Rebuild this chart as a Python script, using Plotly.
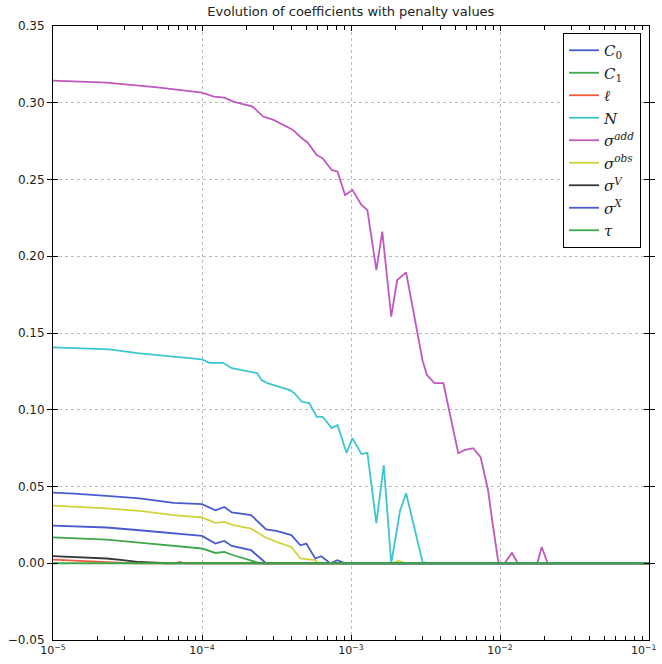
import numpy as np
import plotly.graph_objects as go

# ---- data (x given as log10 of penalty) ----
c0_exp = [-5.0, -4.64, -4.42, -4.19, -4.0, -3.91, -3.85, -3.80, -3.67, -3.57, -1.0]
c0_val = [0.0245, 0.0233, 0.0215, 0.0194, 0.0178, 0.0128, 0.0145, 0.0113, 0.0085, 0.0, 0.0]

c1_exp = [-5.0, -4.64, -4.42, -4.19, -4.0, -3.91, -3.85, -3.79, -3.67, -3.61, -1.0]
c1_val = [0.0168, 0.0154, 0.0135, 0.0113, 0.0096, 0.0067, 0.0074, 0.0052, 0.002, 0.0, 0.0]

ell_exp = [-5.0, -4.75, -4.53, -4.48, -4.18, -4.15, -4.12, -1.0]
ell_val = [0.0024, 0.0015, 0.0003, 0.0, 0.0, 0.0008, 0.0, 0.0]

n_exp = [-5.0, -4.62, -4.42, -4.2, -4.0, -3.95, -3.86, -3.80, -3.68, -3.63, -3.60, -3.56,
         -3.48, -3.41, -3.38, -3.33, -3.28, -3.23, -3.19, -3.13, -3.09, -3.03, -2.99,
         -2.93, -2.89, -2.83, -2.78, -2.73, -2.67, -2.63, -2.52, -2.48, -1.0]
n_val = [0.1406, 0.1393, 0.1367, 0.1345, 0.1328, 0.1306, 0.1306, 0.1271, 0.1247, 0.1239, 0.1193, 0.1173,
         0.1149, 0.1128, 0.1108, 0.1052, 0.1043, 0.0954, 0.0954, 0.0880, 0.0900, 0.0719, 0.0815,
         0.0711, 0.0719, 0.0261, 0.0639, 0.0, 0.0346, 0.0456, 0.0008, 0.0, 0.0]

sadd_exp = [-5.0, -4.64, -4.30, -4.0, -3.92, -3.85, -3.79, -3.66, -3.59, -3.52, -3.43, -3.39,
            -3.33, -3.29, -3.23, -3.19, -3.13, -3.09, -3.04, -2.99, -2.93, -2.89, -2.83,
            -2.79, -2.73, -2.69, -2.63, -2.52, -2.49, -2.44, -2.38, -2.34, -2.28, -2.24,
            -2.18, -2.13, -2.08, -2.05, -2.01, -1.97, -1.92, -1.88, -1.75, -1.72, -1.68, -1.0]
sadd_val = [0.3144, 0.3131, 0.3100, 0.3066, 0.3040, 0.3033, 0.3007, 0.2975, 0.2910, 0.2888, 0.2844, 0.2823,
            0.2769, 0.2740, 0.2660, 0.2638, 0.2562, 0.2551, 0.2399, 0.2432, 0.2334, 0.2301, 0.1910,
            0.2160, 0.1606, 0.1845, 0.1895, 0.1323, 0.1226, 0.1173, 0.1173, 0.0997, 0.0717, 0.0737,
            0.0750, 0.0691, 0.0476, 0.0261, 0.0, 0.0, 0.0067, 0.0, 0.0, 0.0106, 0.0, 0.0]

sobs_exp = [-5.0, -4.64, -4.42, -4.19, -4.0, -3.91, -3.85, -3.79, -3.67, -3.58, -3.50, -3.40,
            -3.34, -3.24, -3.22, -2.73, -2.68, -2.63, -1.0]
sobs_val = [0.0375, 0.0357, 0.0341, 0.0313, 0.0298, 0.0263, 0.0269, 0.0248, 0.0226, 0.0171, 0.0139, 0.0106,
            0.0031, 0.002, 0.0, 0.0, 0.0015, 0.0, 0.0]

sv_exp = [-5.0, -4.86, -4.64, -4.53, -4.42, -4.24, -1.0]
sv_val = [0.0046, 0.0041, 0.0031, 0.002, 0.0008, 0.0, 0.0]

sx_exp = [-5.0, -4.86, -4.64, -4.42, -4.19, -4.0, -3.91, -3.85, -3.80, -3.67, -3.57, -3.50,
          -3.40, -3.34, -3.30, -3.24, -3.20, -3.14, -3.09, -3.04, -1.0]
sx_val = [0.0460, 0.0454, 0.0439, 0.0422, 0.0393, 0.0385, 0.0345, 0.0367, 0.0331, 0.0313, 0.0220, 0.0211,
          0.0183, 0.0117, 0.0128, 0.0031, 0.0046, 0.0, 0.002, 0.0, 0.0]

tau_exp = [-5.0, -1.0]
tau_val = [0.0, 0.0]

x_tick_vals = [1e-5, 1e-4, 1e-3, 1e-2, 1e-1]
x_tick_text = ["10<sup>−5</sup>", "10<sup>−4</sup>", "10<sup>−3</sup>", "10<sup>−2</sup>",
               "10<sup>−1</sup>\u00a0\u00a0\u00a0"]

labels = ["<i>C</i><sub>0</sub>", "<i>C</i><sub>1</sub>", "<i>ℓ</i>", "<i>N</i>",
          "<i>σ</i><sup><i>add</i></sup>", "<i>σ</i><sup><i>obs</i></sup>",
          "<i>σ</i><sup><i>V</i></sup>", "<i>σ</i><sup><i>X</i></sup>", "<i>τ</i>"]
colors = ["#4a5ad0", "#3ea84a", "#f05a3c", "#3cc6d2", "#c058c0", "#d2d23c", "#383838", "#4a5ad0", "#3ea84a"]
series = [(c0_exp, c0_val), (c1_exp, c1_val), (ell_exp, ell_val), (n_exp, n_val),
          (sadd_exp, sadd_val), (sobs_exp, sobs_val), (sv_exp, sv_val), (sx_exp, sx_val),
          (tau_exp, tau_val)]

# minor tick positions on the log axis (2..9 x each decade)
minor_ticks = [m * 10.0 ** d for d in range(-5, -1) for m in range(2, 10)]

fig = go.Figure()
for (ex, val), lab, col in zip(series, labels, colors):
    fig.add_trace(go.Scatter(x=10 ** np.array(ex), y=val, mode="lines", name=lab,
                             line=dict(color=col, width=1.8)))

axis_common = dict(showline=True, linecolor="black", linewidth=1, mirror="allticks",
                   ticks="inside", ticklen=5, tickcolor="black",
                   showgrid=True, gridcolor="#bcbcbc", griddash="dot", gridwidth=1,
                   zeroline=False, ticklabeloverflow="allow", automargin=False)

fig.update_xaxes(type="log", range=[-5, -1], tickmode="array", tickvals=x_tick_vals,
                 ticktext=x_tick_text,
                 tickfont=dict(family="DejaVu Sans", size=11, color="#222"), **axis_common)
fig.update_yaxes(range=[-0.05, 0.35], dtick=0.05, tickformat=".2f", ticklabelstandoff=5,
                 tickfont=dict(family="DejaVu Sans", size=12, color="#222"), **axis_common)

fig.update_layout(
    width=662, height=664,
    margin=dict(l=53, r=13, t=26, b=24),
    paper_bgcolor="white", plot_bgcolor="white",
    xaxis2=dict(type="log", range=[-5, -1], overlaying="x", side="bottom", anchor="y",
                tickmode="array", tickvals=minor_ticks, showticklabels=False,
                ticks="inside", ticklen=4, tickcolor="black", tickwidth=1, mirror="allticks",
                showline=True, linecolor="black", linewidth=1,
                showgrid=False, zeroline=False, automargin=False),
    title=dict(text="Evolution of coefficients with penalty values", x=0.53, xanchor="center",
               y=0.99, yanchor="top", font=dict(family="DejaVu Sans", size=13, color="#222")),
    legend=dict(x=0.9866, y=0.9886, xanchor="right", yanchor="top",
                bgcolor="white", bordercolor="black", borderwidth=1,
                font=dict(family="DejaVu Serif", size=15, color="#222"),
                itemwidth=30),
    showlegend=True,
)
# an empty trace so the minor-tick axis is drawn
fig.add_trace(go.Scatter(x=[], y=[], xaxis="x2", yaxis="y", showlegend=False, hoverinfo="skip"))

fig.write_html("out.html")
